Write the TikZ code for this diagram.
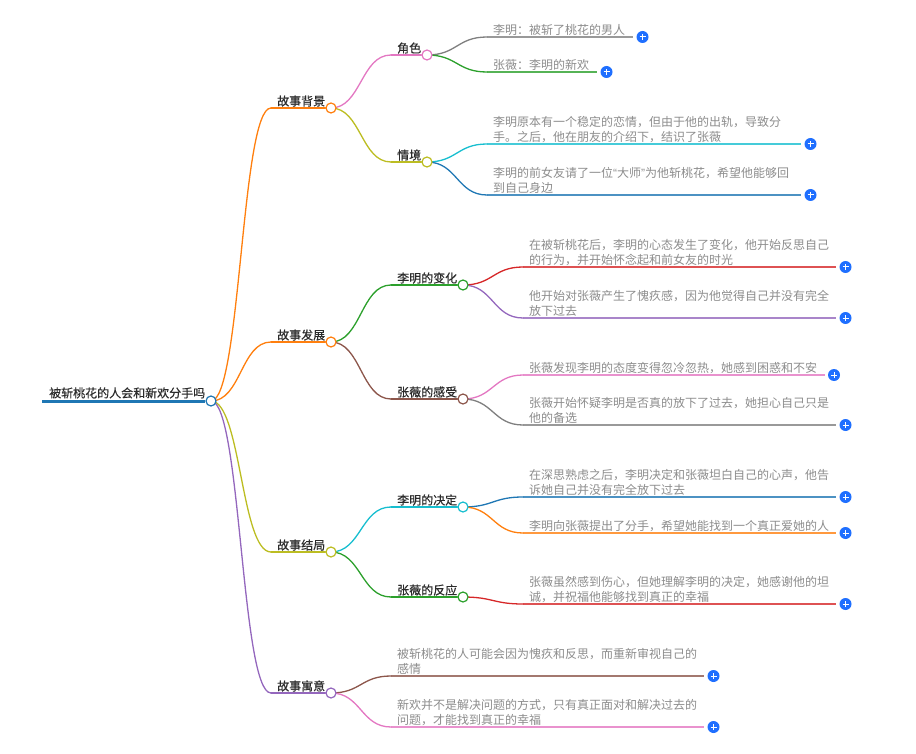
\documentclass[tikz,border=0pt]{standalone}
\usepackage{fontspec}
\setmainfont{Noto Sans CJK SC}
\newfontfamily\headfont[FakeBold=0.5]{Noto Sans CJK SC}
\newfontfamily\quotefont{Liberation Sans}
\usetikzlibrary{calc}
\pgfdeclarelayer{wires}
\pgfsetlayers{wires,main}
\definecolor{cgray}{HTML}{7F7F7F}
\definecolor{cgreen}{HTML}{2CA02C}
\definecolor{ccyan}{HTML}{17BECF}
\definecolor{cblue}{HTML}{1F77B4}
\definecolor{cred}{HTML}{D62728}
\definecolor{cpurple}{HTML}{9467BD}
\definecolor{cpink}{HTML}{E377C2}
\definecolor{cbrown}{HTML}{8C564B}
\definecolor{corange}{HTML}{FF7F0E}
\definecolor{colive}{HTML}{BCBD22}
\definecolor{plusblue}{HTML}{1F6FFF}
\definecolor{leaftext}{HTML}{8C8C8C}
\definecolor{headtext}{HTML}{2B2B2B}
\tikzset{
  dotnode/.style={circle,draw=#1,fill=white,line width=1.2pt,minimum size=10pt,inner sep=0pt},
  plusnode/.style={circle,fill=plusblue,minimum size=12pt,inner sep=0pt,
    path picture={\draw[white,line width=1pt] ([xshift=-3pt]path picture bounding box.center)--([xshift=3pt]path picture bounding box.center);
      \draw[white,line width=1pt] ([yshift=-3pt]path picture bounding box.center)--([yshift=3pt]path picture bounding box.center);}},
  headlabel/.style={anchor=base west,inner sep=0pt,text=headtext,font=\fontsize{12}{15}\headfont},
  leaflabel/.style={anchor=south west,inner sep=0pt,text=leaftext,align=left,font=\fontsize{12}{15.2}\selectfont},
  wire/.style={line width=1.3pt,line cap=round},
  leafwire/.style={line width=1.4pt,draw opacity=.8}
}
\newcommand{\curvewire}[3]{\begin{pgfonlayer}{wires}\draw[wire,#1] let \p1=(#2.center), \p2=(#3) in (\p1) .. controls ({0.5*\x1+0.5*\x2},\y1) and ({0.5*\x1+0.5*\x2},\y2) .. (\p2);\end{pgfonlayer}}
% name, parent, text x, y, line end x, colour, text
\newcommand{\leafitem}[7]{%
  \coordinate (#1s) at (#3-6,#4);
  \coordinate (#1e) at (#5,#4);
  \node[plusnode] (#1p) at (#5+9.5,#4) {};
  \curvewire{#6}{#2}{#1s}
  \draw[leafwire,#6] (#1s) -- (#1e);
  \node[leaflabel] (#1t) at (#3,#4-1.2) {#7};
}
\begin{document}
\begin{tikzpicture}[x=1pt,y=-1pt]
\useasboundingbox (0,0) rectangle (916,754);
% root
\node[dotnode=cblue] (root) at (211,401) {};
\coordinate (rootstart) at (42,401);
\draw[line width=3pt,cblue] (rootstart) -- (root.west);
\node[headlabel] (roott) at (49,397.5) {被斩桃花的人会和新欢分手吗};
% level 1
\newcommand{\lone}[4]{%
  \coordinate (#1s) at (271,#2);
  \node[dotnode=#3] (#1) at (331,#2) {};
  \curvewire{#3}{root}{#1s}
  \draw[wire,#3] (#1s) -- (#1.west);
  \node[headlabel] (#1t) at (277,#2-2.4) {#4};
}
\lone{a}{108}{corange}{故事背景}
\lone{b}{342}{corange}{故事发展}
\lone{c}{552}{colive}{故事结局}
\lone{d}{693}{cpurple}{故事寓意}
% level 2
\newcommand{\ltwo}[6]{%
  \coordinate (#1s) at (391,#4);
  \node[dotnode=#5] (#1) at (#3,#4) {};
  \curvewire{#5}{#2}{#1s}
  \draw[wire,#5] (#1s) -- (#1.west);
  \node[headlabel] (#1t) at (397,#4-2.4) {#6};
}
\ltwo{aa}{a}{427}{55}{cpink}{角色}
\ltwo{ab}{a}{427}{162}{colive}{情境}
\ltwo{ba}{b}{463}{285}{cgreen}{李明的变化}
\ltwo{bb}{b}{463}{399}{cbrown}{张薇的感受}
\ltwo{ca}{c}{463}{507}{ccyan}{李明的决定}
\ltwo{cb}{c}{463}{597}{cgreen}{张薇的反应}
% leaves
\leafitem{l1}{aa}{493}{37}{633}{cgray}{李明：被斩了桃花的男人}
\leafitem{l2}{aa}{493}{72}{597}{cgreen}{张薇：李明的新欢}
\leafitem{l3}{ab}{493}{144}{801}{ccyan}{李明原本有一个稳定的恋情，但由于他的出轨，导致分\\手。之后，他在朋友的介绍下，结识了张薇}
\leafitem{l4}{ab}{493}{195}{801}{cblue}{李明的前女友请了一位{\quotefont “}大师{\quotefont ”}为他斩桃花，希望他能够回\\到自己身边}
\leafitem{l5}{ba}{529}{267}{836}{cred}{在被斩桃花后，李明的心态发生了变化，他开始反思自己\\的行为，并开始怀念起和前女友的时光}
\leafitem{l6}{ba}{529}{318}{836}{cpurple}{他开始对张薇产生了愧疚感，因为他觉得自己并没有完全\\放下过去}
\leafitem{l7}{bb}{529}{375}{824.5}{cpink}{张薇发现李明的态度变得忽冷忽热，她感到困惑和不安}
\leafitem{l8}{bb}{529}{425}{836}{cgray}{张薇开始怀疑李明是否真的放下了过去，她担心自己只是\\他的备选}
\leafitem{l9}{ca}{529}{497}{836}{cblue}{在深思熟虑之后，李明决定和张薇坦白自己的心声，他告\\诉她自己并没有完全放下过去}
\leafitem{l10}{ca}{529}{533}{836}{corange}{李明向张薇提出了分手，希望她能找到一个真正爱她的人}
\leafitem{l11}{cb}{529}{604}{836}{cred}{张薇虽然感到伤心，但她理解李明的决定，她感谢他的坦\\诚，并祝福他能够找到真正的幸福}
\leafitem{l12}{d}{397}{676}{704}{cbrown}{被斩桃花的人可能会因为愧疚和反思，而重新审视自己的\\感情}
\leafitem{l13}{d}{397}{727}{704}{cpink}{新欢并不是解决问题的方式，只有真正面对和解决过去的\\问题，才能找到真正的幸福}
\end{tikzpicture}
\end{document}
